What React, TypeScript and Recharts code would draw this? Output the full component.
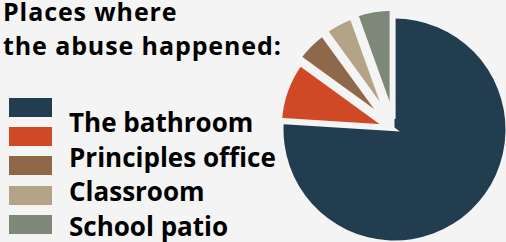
import React from 'react';
import { PieChart, Pie, Cell } from 'recharts';

const places = ['The bathroom', 'Principles office', 'Classroom', 'School patio', 'Other'];
const shares = [76, 9, 5, 4.5, 5.5];
const titleLines = ['Places where', 'the abuse happened:'];
const legendLabels = ['The bathroom', 'Principles office', 'Classroom', 'School patio'];
const colors = ['#223d4f', '#cf4a24', '#8f6849', '#b4a386', '#7d8878'];

// how far each slice is pulled out of the pie, in px
const explode = [0, 5, 9.5, 10, 11];

const BG = '#f4f4f4';
const CX = 394.5;
const CY = 129.5;
const R = 111;
const START = 90;
const END = -270;

const data = places.map((name, i) => ({ name, value: shares[i] }));
const total = shares.reduce((a, b) => a + b, 0);

const midAngle = (i: number) => {
  const before = shares.slice(0, i).reduce((a, b) => a + b, 0);
  return START - ((before + shares[i] / 2) / total) * (START - END);
};

const App: React.FC = () => {
  return (
    <div
      style={{
        position: 'absolute',
        left: 0,
        top: 0,
        width: 506,
        height: 242,
        background: BG,
        overflow: 'hidden',
        fontFamily: '"Open Sans", sans-serif',
        fontWeight: 700,
        color: '#000',
      }}
    >
      {titleLines.map((line, i) => (
        <div
          key={line}
          style={{
            position: 'absolute',
            left: 3,
            top: 1 + i * 33.8,
            fontSize: 25,
            lineHeight: '20px',
            letterSpacing: 0.9,
            whiteSpace: 'nowrap',
          }}
        >
          {line}
        </div>
      ))}

      {colors.map((c, i) => (
        <div
          key={c}
          style={{
            position: 'absolute',
            left: 9,
            top: 98 + i * 29.2,
            width: 43,
            height: 19,
            background: c,
          }}
        />
      ))}

      {legendLabels.map((label, i) => (
        <div
          key={label}
          style={{
            position: 'absolute',
            left: 69,
            top: 109 + i * 34.5,
            fontSize: 26,
            lineHeight: '26px',
            whiteSpace: 'nowrap',
          }}
        >
          {label}
        </div>
      ))}

      <div style={{ position: 'absolute', left: 0, top: 0 }}>
        <PieChart width={506} height={242} margin={{ top: 0, right: 0, bottom: 0, left: 0 }}>
          {data.map((d, i) => {
            const rad = (midAngle(i) * Math.PI) / 180;
            return (
              <Pie
                key={d.name}
                data={data}
                dataKey="value"
                cx={CX + explode[i] * Math.cos(rad)}
                cy={CY - explode[i] * Math.sin(rad)}
                outerRadius={R}
                startAngle={START}
                endAngle={END}
                isAnimationActive={false}
                label={false}
                labelLine={false}
              >
                {data.map((e, j) => (
                  <Cell
                    key={e.name}
                    fill={j === i ? colors[j] : 'transparent'}
                    stroke={j === i && i > 0 ? BG : 'none'}
                    strokeWidth={j === i && i > 0 ? 6 : 0}
                  />
                ))}
              </Pie>
            );
          })}
        </PieChart>
      </div>
    </div>
  );
};

export default App;
